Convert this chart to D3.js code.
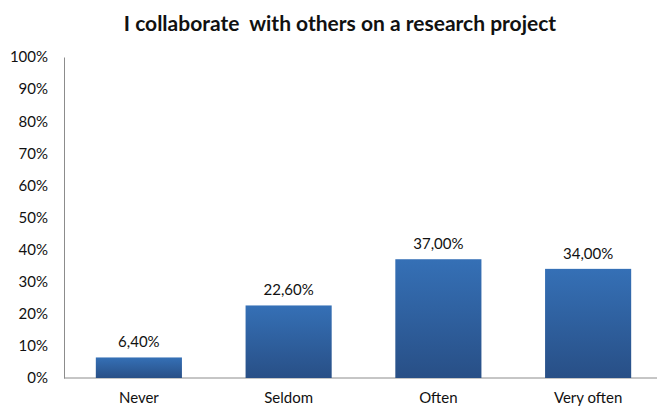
<!DOCTYPE html>
<html>
<head>
<meta charset="utf-8">
<script src="https://cdn.jsdelivr.net/npm/d3@7"></script>
<style>
  body { margin: 0; background: #fff; }
  text { font-family: Lato, "Open Sans", sans-serif; fill: #111; }
</style>
</head>
<body>
<svg id="chart"></svg>
<script>
// Chart data
const categories = ["Never", "Seldom", "Often", "Very often"];
const values = [6.4, 22.6, 37.0, 34.0];
const yTicks = [0, 10, 20, 30, 40, 50, 60, 70, 80, 90, 100];
const titleText = "I collaborate  with others on a research project";

const width = 657;
const height = 406;
const margin = { top: 57, right: -6, bottom: 28, left: 64 };

const svg = d3.select("#chart")
    .attr("width", width)
    .attr("height", height);

// Gradient for bars
const defs = svg.append("defs");
const grad = defs.append("linearGradient")
    .attr("id", "barGrad")
    .attr("x1", 0).attr("y1", 0).attr("x2", 0).attr("y2", 1);
grad.append("stop").attr("offset", "0%").attr("stop-color", "#3570b6");
grad.append("stop").attr("offset", "100%").attr("stop-color", "#284f86");

const x = d3.scaleBand()
    .domain(categories)
    .range([margin.left, width - margin.right])
    .paddingInner(0.425)
    .paddingOuter(0.2125);

const y = d3.scaleLinear()
    .domain([0, 100])
    .range([height - margin.bottom, margin.top]);

// Title
svg.append("text")
    .attr("x", 340)
    .attr("y", 31)
    .attr("text-anchor", "middle")
    .style("font-size", "21px")
    .style("font-weight", "bold")
    .style("white-space", "pre")
    .text(titleText);

// Y axis
const yAxis = svg.append("g")
    .attr("transform", `translate(${margin.left},0)`)
    .call(d3.axisLeft(y).tickValues(yTicks).tickSize(0).tickPadding(16).tickFormat(d => d + "%"));
yAxis.select(".domain").attr("stroke", "#8c8c8c");
yAxis.selectAll("text").style("font-size", "15px").attr("fill", "#111");

// X axis
const xAxis = svg.append("g")
    .attr("transform", `translate(0,${y(0)})`)
    .call(d3.axisBottom(x).tickSize(0).tickPadding(14));
xAxis.select(".domain").attr("stroke", "#8c8c8c").attr("d", `M${margin.left},0H${width}`);
xAxis.selectAll("text").style("font-size", "15px").attr("fill", "#111");

// Bars
svg.selectAll("rect.bar")
    .data(values)
    .join("rect")
    .attr("class", "bar")
    .attr("x", (d, i) => x(categories[i]))
    .attr("y", d => y(d))
    .attr("width", x.bandwidth())
    .attr("height", d => y(0) - y(d))
    .attr("fill", "url(#barGrad)");

// Value labels
const fmt = d => d.toFixed(2).replace(".", ",") + "%";
svg.selectAll("text.val")
    .data(values)
    .join("text")
    .attr("class", "val")
    .attr("x", (d, i) => x(categories[i]) + x.bandwidth() / 2)
    .attr("y", d => y(d) - 10)
    .attr("text-anchor", "middle")
    .style("font-size", "15px")
    .text(fmt);
</script>
</body>
</html>
